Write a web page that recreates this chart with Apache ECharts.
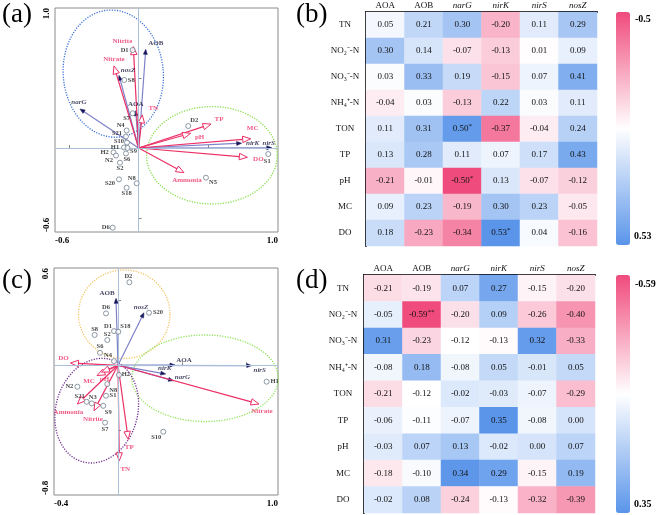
<!DOCTYPE html>
<html><head><meta charset="utf-8">
<script src="https://cdn.jsdelivr.net/npm/echarts@6/dist/echarts.min.js"></script>
<style>html,body{margin:0;padding:0;background:#fff}#c{width:661px;height:515px}</style>
</head><body><div id="c"></div>
<script>
// ================= DATA =================
const genes = ['AOA', 'AOB', 'narG', 'nirK', 'nirS', 'nosZ'];
const factors = ['TN', 'NO₂⁻-N', 'NO₃⁻-N', 'NH₄⁺-N', 'TON', 'TP', 'pH', 'MC', 'DO'];

// (b) correlation matrix (rows = factors, cols = genes)
const corrB = [
  [0.05, 0.21, 0.30, -0.20, 0.11, 0.29],
  [0.30, 0.14, -0.07, -0.13, 0.01, 0.09],
  [0.03, 0.33, 0.19, -0.15, 0.07, 0.41],
  [-0.04, 0.03, -0.13, 0.22, 0.03, 0.11],
  [0.11, 0.31, 0.50, -0.37, -0.04, 0.24],
  [0.13, 0.28, 0.11, 0.07, 0.17, 0.43],
  [-0.21, -0.01, -0.50, 0.13, -0.07, -0.12],
  [0.09, 0.23, -0.19, 0.30, 0.23, -0.05],
  [0.18, -0.23, -0.34, 0.53, 0.04, -0.16]
];
const sigB = [[4, 2, '*'], [6, 2, '*'], [8, 3, '*']];

// (d) correlation matrix
const corrD = [
  [-0.21, -0.19, 0.07, 0.27, -0.15, -0.20],
  [-0.05, -0.59, -0.20, 0.09, -0.26, -0.40],
  [0.31, -0.23, -0.12, -0.13, 0.32, -0.33],
  [-0.08, 0.18, -0.08, 0.05, -0.01, 0.05],
  [-0.21, -0.12, -0.02, -0.03, -0.07, -0.29],
  [-0.06, -0.11, -0.07, 0.35, -0.08, 0.00],
  [-0.03, 0.07, 0.13, -0.02, 0.00, 0.07],
  [-0.18, -0.10, 0.34, 0.29, -0.15, 0.19],
  [-0.02, 0.08, -0.24, -0.13, -0.32, -0.39]
];
const sigD = [[1, 1, '**']];

// (a) RDA biplot
const envNamesA = ['Nitrite', 'Nitrate', 'TN', 'TP', 'pH', 'MC', 'DO', 'Ammonia'];
const envXA = [-0.038, -0.177, 0.026, 0.519, 0.373, 0.804, 0.780, 0.325];
const envYA = [0.724, 0.586, 0.236, 0.171, 0.105, 0.066, -0.066, -0.176];
const geneNamesA = ['AOB', 'nosZ', 'narG', 'AOA', 'nirK', 'nirS'];
const geneXA = [0.051, -0.141, -0.421, -0.021, 0.739, 0.955];
const geneYA = [0.705, 0.519, 0.279, 0.266, 0.034, 0.002];
const sampleNamesA = ['D1', 'S8', 'S7', 'D2', 'N4', 'S21', 'S10', 'H1', 'S9', 'H2', 'N2', 'S6', 'S2', 'S20', 'N8', 'S18', 'D6', 'S1', 'N5'];
const sampleXA = [-0.043, -0.103, -0.043, 0.356, -0.086, -0.091, -0.083, -0.105, -0.080, -0.180, -0.162, -0.091, -0.134, -0.141, -0.014, -0.086, -0.186, 0.930, 0.483];
const sampleYA = [0.700, 0.486, 0.248, 0.157, 0.125, 0.082, 0.039, 0.004, 0.000, -0.032, -0.054, -0.039, -0.105, -0.224, -0.252, -0.284, -0.569, -0.043, -0.212];
const ellCxA = [-0.182, 0.526];
const ellCyA = [0.531, -0.052];
const ellRxA = [0.359, 0.469];
const ellRyA = [0.455, 0.348];
const ellRotA = [-5, 0];
const axisRangeXA = [-0.6, 1.0];
const axisRangeYA = [-0.6, 1.0];
const tickXA = [-0.5, 0, 0.5];
const tickYA = [-0.5, 0, 0.5];

// (c) RDA biplot
const envNamesC = ['DO', 'MC', 'pH', 'Ammonia', 'Nitrite', 'TP', 'TN', 'Nitrate'];
const envXC = [-0.297, -0.131, -0.103, -0.254, -0.150, 0.064, 0.008, 0.881];
const envYC = [0.014, -0.063, -0.042, -0.239, -0.280, -0.457, -0.589, -0.239];
const geneNamesC = ['AOB', 'nosZ', 'AOA', 'nirS', 'nirK', 'narG'];
const geneXC = [-0.0125, 0.1625, 0.356, 0.836, 0.298, 0.346];
const geneYC = [0.413, 0.324, 0.002, -0.002, -0.054, -0.095];
const sampleNamesC = ['D2', 'D6', 'S20', 'D1', 'S18', 'S8', 'S2', 'S6', 'N4', 'H2', 'N8', 'S1', 'N2', 'S21', 'N3', 'S9', 'S7', 'H1', 'S10'];
const sampleXC = [0.071, -0.075, 0.194, -0.025, 0.002, -0.146, -0.067, -0.1125, -0.025, 0.006, -0.067, -0.075, -0.254, -0.196, -0.164, -0.092, -0.081, 0.929, 0.283];
const sampleYC = [0.512, 0.320, 0.324, 0.211, 0.207, 0.187, 0.156, 0.077, 0.026, -0.060, -0.116, -0.188, -0.132, -0.225, -0.235, -0.250, -0.354, -0.101, -0.410];
const ellCxC = [0.039, 0.544, -0.133];
const ellCyC = [0.315, -0.080, -0.280];
const ellRxC = [0.286, 0.458, 0.256];
const ellRyC = [0.273, 0.267, 0.327];
const ellRotC = [0, 0, 15];
const axisRangeXC = [-0.4, 1.0];
const axisRangeYC = [-0.8, 0.6];
const tickXC = [0, 0.4, 0.8];
const tickYC = [-0.4, 0, 0.4];

// ================= LAYOUT / STYLE =================
const FONT = '"Liberation Serif","Times New Roman",serif';
const PINK = '#ec2f66';
const GENE_LINE = '#7f82c8';
const GENE_HEAD = '#17175e';
const italicGenes = ['narG', 'nirK', 'nirS', 'nosZ'];
const ellColorsA = ['#3b6fd8', '#86df4a'];
const ellColorsC = ['#f2c260', '#8fe256', '#6e2a8e'];
const heatColors = ['#f04b7d', '#ffffff', '#5a95ea'];

const envOffA = {Nitrite: [-11, -5], Nitrate: [0, -7], TN: [11, -7], TP: [8, -5], pH: [9, 4], MC: [2, -11], DO: [11, 2], Ammonia: [3, 8]};
const geneOffA = {AOB: [10, -6], nosZ: [9, -5], narG: [-1, -7], AOA: [0, -7], nirK: [11, 0], nirS: [-3, -5]};
const sampOffA = {D1: [-8, 0], S8: [7, 0], S7: [-6, 5], D2: [6, -6], N4: [-6, -5], S21: [-9, -3], S10: [-8, -1], H1: [-9, 0],
  S9: [6, 3], H2: [-9, 0], N2: [-7, 5], S6: [1, 6], S2: [0, 6], S20: [-9, 4], N8: [-5, -5], S18: [0, 6], D6: [-7, 0], S1: [-1, 7], N5: [7, 5]};
const envOffC = {DO: [-7, -5], MC: [-8, 6], pH: [3, 7], Ammonia: [-9, 8], Nitrite: [-1, 9], TP: [1, 8], TN: [6, 8], Nitrate: [3, 7]};
const geneOffC = {AOB: [-9, -5], nosZ: [-3, -6], AOA: [9, -5], nirS: [8, 5], nirK: [-1, -6], narG: [9, -4]};
const sampOffC = {D2: [-1, -6], D6: [0, -6], S20: [9, 0], D1: [-6, -5], S18: [7, -5], S8: [0, -6], S2: [0, -6], S6: [0, -6], N4: [-6, -6],
  H2: [7, -1], N8: [6, 6], S1: [7, 0], N2: [-8, 0], S21: [-7, -5], N3: [1, -6], S9: [5, 7], S7: [0, 7], H1: [8, 0], S10: [-7, 6]};

// ================= HELPERS =================
function heatData(mat) {
  const out = [];
  mat.forEach((row, i) => row.forEach((v, j) => out.push([j, i, v])));
  return out;
}
function sigMap(list) {
  const m = {};
  list.forEach(([r, c, s]) => { m[r + '_' + c] = s; });
  return m;
}
function matMin(m) { return Math.min(...m.map(r => Math.min(...r))); }
function matMax(m) { return Math.max(...m.map(r => Math.max(...r))); }
function shortNum(v) { return String(Number(v.toFixed(2))); }

function valueAxis(gi, range, ticks, isY) {
  return {
    type: 'value', gridIndex: gi, min: range[0], max: range[1],
    splitLine: {show: false}, axisLine: {show: false},
    axisTick: {show: true, inside: true, length: 3, customValues: ticks, lineStyle: {color: '#888'}},
    axisLabel: {
      show: true, customValues: range, formatter: v => v.toFixed(1),
      fontFamily: FONT, fontWeight: 'bold', fontSize: 9, color: '#000', margin: 4,
      rotate: isY ? 90 : 0, alignMinLabel: 'left', alignMaxLabel: 'right'
    }
  };
}

function ellipseSeries(gi, cx, cy, rx, ry, rot, colors) {
  return {
    type: 'custom', xAxisIndex: gi, yAxisIndex: gi, z: 1, silent: true, clip: false,
    data: cx.map((x, i) => [x, cy[i], rx[i], ry[i], rot[i]]),
    encode: {x: 0, y: 1},
    renderItem: (params, api) => {
      const c = api.coord([api.value(0), api.value(1)]);
      const s = api.size([api.value(2), api.value(3)]);
      const th = api.value(4) * Math.PI / 180;
      const pts = [];
      for (let k = 0; k <= 144; k++) {
        const t = k / 144 * 2 * Math.PI;
        const ex = s[0] * Math.cos(t), ey = s[1] * Math.sin(t);
        pts.push([c[0] + ex * Math.cos(th) - ey * Math.sin(th), c[1] + ex * Math.sin(th) + ey * Math.cos(th)]);
      }
      return {type: 'polyline', shape: {points: pts},
        style: {fill: null, stroke: colors[params.dataIndex], lineWidth: 1.3, lineDash: [1.2, 1.4]}};
    },
    markLine: {
      silent: true, symbol: 'none', label: {show: false}, animation: false,
      lineStyle: {color: '#a9c0d8', width: 1, type: 'solid'},
      data: [{xAxis: 0}, {yAxis: 0}]
    }
  };
}

function arrowSeries(gi, xs, ys, kind) {
  return {
    type: 'custom', xAxisIndex: gi, yAxisIndex: gi, z: kind === 'env' ? 3 : 2, silent: true, clip: false,
    data: xs.map((x, i) => [x, ys[i]]),
    encode: {x: 0, y: 1},
    renderItem: (params, api) => {
      const o = api.coord([0, 0]);
      const t = api.coord([api.value(0), api.value(1)]);
      const dx = t[0] - o[0], dy = t[1] - o[1];
      const L = Math.hypot(dx, dy) || 1;
      const ux = dx / L, uy = dy / L, px = -uy, py = ux;
      const env = kind === 'env';
      const hl = env ? 8 : 5, hw = env ? 3.2 : 2;
      const b = [t[0] - ux * hl, t[1] - uy * hl];
      return {
        type: 'group', children: [
          {type: 'line', shape: {x1: o[0], y1: o[1], x2: b[0], y2: b[1]},
            style: {stroke: env ? PINK : GENE_LINE, lineWidth: 1.2}},
          {type: 'polygon', shape: {points: [t, [b[0] + px * hw, b[1] + py * hw], [b[0] - px * hw, b[1] - py * hw]]},
            style: env ? {fill: '#fff', stroke: PINK, lineWidth: 1} : {fill: GENE_HEAD, stroke: GENE_HEAD, lineWidth: 0.5}}
        ]
      };
    }
  };
}

function labelSeries(gi, names, xs, ys, offsets, color, size) {
  return {
    type: 'scatter', xAxisIndex: gi, yAxisIndex: gi, z: 6, silent: true,
    symbol: 'circle', symbolSize: 1, itemStyle: {color: 'rgba(0,0,0,0)'},
    data: names.map((n, i) => ({name: n, value: [xs[i], ys[i]], label: {offset: offsets[n] || [0, 0]}})),
    label: {
      show: true, position: 'inside', color: color, fontFamily: FONT, fontWeight: 'bold', fontSize: size,
      formatter: p => italicGenes.indexOf(p.name) >= 0 ? '{i|' + p.name + '}' : p.name,
      rich: {i: {fontStyle: 'italic', fontWeight: 'bold', fontFamily: FONT, fontSize: size, color: color}}
    }
  };
}

function sampleSeries(gi, names, xs, ys, offsets) {
  return {
    type: 'scatter', xAxisIndex: gi, yAxisIndex: gi, z: 5, silent: true,
    symbol: 'circle', symbolSize: 5,
    itemStyle: {color: '#fff', borderColor: '#6f7f90', borderWidth: 1},
    data: names.map((n, i) => ({name: n, value: [xs[i], ys[i]], label: {offset: offsets[n] || [0, 0]}})),
    label: {show: true, position: 'inside', color: '#111', fontFamily: FONT, fontWeight: 'bold', fontSize: 6.5,
      formatter: p => p.name}
  };
}

function heatSeries(gi, mat, sigs) {
  const sm = sigMap(sigs);
  return {
    type: 'heatmap', xAxisIndex: gi, yAxisIndex: gi,
    data: heatData(mat),
    itemStyle: {borderWidth: 0},
    label: {
      show: true, color: '#111', fontFamily: FONT, fontSize: 9,
      formatter: p => {
        const s = sm[p.value[1] + '_' + p.value[0]];
        return '{v|' + p.value[2].toFixed(2) + '}' + (s ? '{s|' + s + '}' : '');
      },
      rich: {
        v: {fontFamily: FONT, fontSize: 9, color: '#111', lineHeight: 12},
        s: {fontFamily: FONT, fontSize: 7, color: '#111', lineHeight: 6, verticalAlign: 'top', padding: [0, 0, 4, 0]}
      }
    }
  };
}

function catAxisX(gi) {
  return {
    type: 'category', gridIndex: gi, data: genes, position: 'top',
    axisLine: {show: true, onZero: false, lineStyle: {color: '#000', width: 2}},
    axisTick: {show: false}, splitLine: {show: false},
    axisLabel: {
      interval: 0, margin: 2, color: '#111', fontFamily: FONT, fontSize: 9,
      formatter: v => italicGenes.indexOf(v) >= 0 ? '{i|' + v + '}' : v,
      rich: {i: {fontStyle: 'italic', fontFamily: FONT, fontSize: 9, color: '#111'}}
    }
  };
}
function catAxisY(gi) {
  return {
    type: 'category', gridIndex: gi, data: factors, inverse: true,
    axisLine: {show: true, onZero: false, lineStyle: {color: '#000', width: 2}},
    axisTick: {show: false}, splitLine: {show: false},
    axisLabel: {interval: 0, margin: 21, align: 'center', color: '#111', fontFamily: FONT, fontSize: 9}
  };
}

// ================= OPTION =================
const minB = matMin(corrB), maxB = matMax(corrB);
const minD = matMin(corrD), maxD = matMax(corrD);

const series = [
  ellipseSeries(0, ellCxA, ellCyA, ellRxA, ellRyA, ellRotA, ellColorsA),
  arrowSeries(0, geneXA, geneYA, 'gene'),
  arrowSeries(0, envXA, envYA, 'env'),
  sampleSeries(0, sampleNamesA, sampleXA, sampleYA, sampOffA),
  labelSeries(0, envNamesA, envXA, envYA, envOffA, PINK, 7),
  labelSeries(0, geneNamesA, geneXA, geneYA, geneOffA, '#15153a', 7),
  heatSeries(1, corrB, sigB),
  ellipseSeries(2, ellCxC, ellCyC, ellRxC, ellRyC, ellRotC, ellColorsC),
  arrowSeries(2, geneXC, geneYC, 'gene'),
  arrowSeries(2, envXC, envYC, 'env'),
  sampleSeries(2, sampleNamesC, sampleXC, sampleYC, sampOffC),
  labelSeries(2, envNamesC, envXC, envYC, envOffC, PINK, 7),
  labelSeries(2, geneNamesC, geneXC, geneYC, geneOffC, '#15153a', 7),
  heatSeries(3, corrD, sigD)
];

const option = {
  animation: false,
  backgroundColor: '#fff',
  grid: [
    {left: 55, top: 8, width: 223, height: 224, show: true, borderColor: '#8a8a8a', borderWidth: 1, containLabel: false},
    {left: 366, top: 12, width: 231, height: 234, containLabel: false},
    {left: 54, top: 268, width: 224, height: 227, show: true, borderColor: '#8a8a8a', borderWidth: 1, containLabel: false},
    {left: 364, top: 275, width: 231, height: 238, containLabel: false}
  ],
  xAxis: [valueAxis(0, axisRangeXA, tickXA, false), catAxisX(1), valueAxis(2, axisRangeXC, tickXC, false), catAxisX(3)],
  yAxis: [valueAxis(0, axisRangeYA, tickYA, true), catAxisY(1), valueAxis(2, axisRangeYC, tickYC, true), catAxisY(3)],
  visualMap: [
    {type: 'continuous', seriesIndex: 6, min: minB, max: maxB, inverse: true, orient: 'vertical',
      left: 616, top: 12, padding: 0, itemWidth: 14, itemHeight: 233, calculable: false, text: null,
      inRange: {color: heatColors}, showLabel: false, hoverLink: false},
    {type: 'continuous', seriesIndex: 13, min: minD, max: maxD, inverse: true, orient: 'vertical',
      left: 616, top: 275, padding: 0, itemWidth: 14, itemHeight: 238, calculable: false, text: null,
      inRange: {color: heatColors}, showLabel: false, hoverLink: false}
  ],
  graphic: [
    {type: 'text', left: 2, top: 1, style: {text: '(a)', font: '27px ' + FONT, fill: '#000'}},
    {type: 'text', left: 296, top: 1, style: {text: '(b)', font: '27px ' + FONT, fill: '#000'}},
    {type: 'text', left: 2, top: 267, style: {text: '(c)', font: '27px ' + FONT, fill: '#000'}},
    {type: 'text', left: 296, top: 267, style: {text: '(d)', font: '27px ' + FONT, fill: '#000'}},
    {type: 'text', left: 635, top: 14, style: {text: shortNum(minB), font: 'bold 10px ' + FONT, fill: '#000'}},
    {type: 'text', left: 634, top: 231, style: {text: shortNum(maxB), font: 'bold 10px ' + FONT, fill: '#000'}},
    {type: 'text', left: 635, top: 279, style: {text: shortNum(minD), font: 'bold 10px ' + FONT, fill: '#000'}},
    {type: 'text', left: 634, top: 499, style: {text: shortNum(maxD), font: 'bold 10px ' + FONT, fill: '#000'}}
  ],
  series: series
};

const chart = echarts.init(document.getElementById('c'), null, {renderer: 'canvas'});
chart.setOption(option);
</script>
</body></html>
